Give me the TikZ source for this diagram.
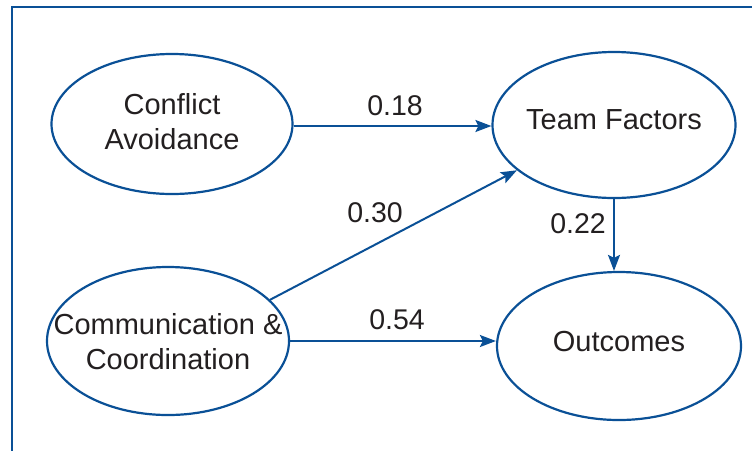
\documentclass[tikz,border=0pt]{standalone}
\usepackage{fontspec}
\setmainfont{Liberation Sans}
\usetikzlibrary{shapes.geometric,arrows.meta}
\definecolor{pathblue}{RGB}{10,80,150}
\definecolor{ink}{RGB}{35,31,32}
\begin{document}
\begin{tikzpicture}[x=1pt,y=-1pt,
  ell/.style={ellipse, draw=pathblue, line width=2.2pt, inner sep=0pt},
  txt/.style={font=\fontsize{29}{35}\selectfont, text=ink, align=center, inner sep=0pt},
  lbl/.style={font=\fontsize{28.5}{35}\selectfont, text=ink, inner sep=0pt},
  arr/.style={draw=pathblue, line width=2pt, -{Stealth[length=16pt,width=12pt,inset=3pt]}},
  frame/.style={draw=pathblue, line width=2.6pt}]
\useasboundingbox (0,0) rectangle (752,451);
\draw[frame] (752,7) -- (12,7) -- (12,451);
% ellipses
\node[ell, minimum width=241pt, minimum height=140pt] (ca) at (172,124) {};
\node[ell, minimum width=243pt, minimum height=146pt] (tf) at (614,125) {};
\node[ell, minimum width=242pt, minimum height=148pt] (cc) at (168,341) {};
\node[ell, minimum width=244pt, minimum height=148pt] (oc) at (619,346) {};
% texts
\node[txt] (catext) at (172,122) {Conflict\\Avoidance};
\node[txt] (tftext) at (614,120) {Team Factors};
\node[txt] (cctext) at (168,342) {Communication \&\\Coordination};
\node[txt] (octext) at (619,342) {Outcomes};
% connectors
\draw[arr] (ca.east |- 0,126) -- (tf.west |- 0,126);
\draw[arr] (cc.22) -- (tf.205);
\draw[arr] (tf.south) -- (tf.south |- oc.north);
\draw[arr] (cc.east |- 0,341) -- (oc.west |- 0,341);
% labels
\node[lbl] (l18) at (395,106) {0.18};
\node[lbl] (l30) at (375,213) {0.30};
\node[lbl] (l22) at (578,224) {0.22};
\node[lbl] (l54) at (397,320) {0.54};
\end{tikzpicture}
\end{document}
